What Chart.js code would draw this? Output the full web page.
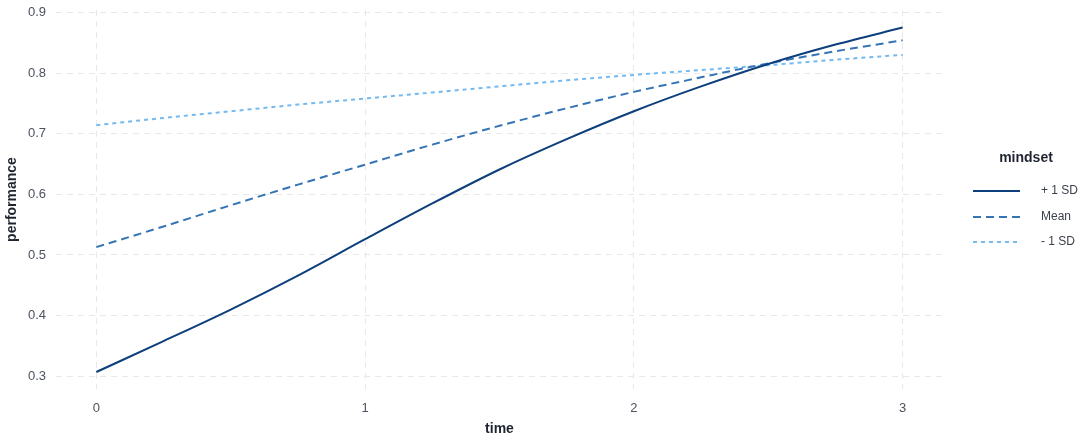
<!DOCTYPE html>
<html>
<head>
<meta charset="utf-8">
<style>
  html, body { margin: 0; padding: 0; background: #fff; }
  #wrap { width: 1084px; height: 444px; }
</style>
<script src="https://cdn.jsdelivr.net/npm/chart.js@4/dist/chart.umd.min.js"></script>
</head>
<body>
<div id="wrap"><canvas id="perfChart"></canvas></div>
<script>
/* ── data ── */
const times = [0, 0.25, 0.5, 0.75, 1, 1.25, 1.5, 1.75, 2, 2.25, 2.5, 2.75, 3];
const plusSD  = [0.307, 0.358, 0.410, 0.466, 0.526, 0.585, 0.641, 0.691, 0.737, 0.778, 0.815, 0.847, 0.875];
const meanSD  = [0.513, 0.547, 0.582, 0.616, 0.649, 0.682, 0.713, 0.742, 0.769, 0.793, 0.816, 0.836, 0.854];
const minusSD = [0.714, 0.726, 0.737, 0.748, 0.758, 0.768, 0.778, 0.788, 0.797, 0.805, 0.813, 0.822, 0.830];
const seriesNames = ['+ 1 SD', 'Mean', '- 1 SD'];
const xTicks = [0, 1, 2, 3];
const yTicks = [0.3, 0.4, 0.5, 0.6, 0.7, 0.8, 0.9];

const FONT = "'Liberation Sans', Arial, sans-serif";
const TICK_COLOR = '#4d5260';
const TITLE_COLOR = '#1f2430';
const GRID = '#e8e8e8';

const toPts = arr => times.map((t, i) => ({ x: t, y: arr[i] }));

/* ── legend drawn on the right, ggplot style ── */
const sideLegend = {
  id: 'sideLegend',
  afterDraw(chart) {
    const { ctx } = chart;
    ctx.save();
    ctx.fillStyle = TITLE_COLOR;
    ctx.font = `bold 14px ${FONT}`;
    ctx.textAlign = 'center';
    ctx.textBaseline = 'middle';
    ctx.fillText('mindset', 1026, 158);

    const rows = [191, 217, 242];
    chart.data.datasets.forEach((ds, i) => {
      ctx.strokeStyle = ds.borderColor;
      ctx.lineWidth = ds.borderWidth;
      ctx.setLineDash(ds.borderDash || []);
      ctx.beginPath();
      ctx.moveTo(973, rows[i]);
      ctx.lineTo(1020, rows[i]);
      ctx.stroke();
      ctx.setLineDash([]);
      ctx.fillStyle = '#3a3f4a';
      ctx.font = `12px ${FONT}`;
      ctx.textAlign = 'left';
      ctx.fillText(ds.label, 1041, rows[i]);
    });
    ctx.restore();
  }
};

new Chart(document.getElementById('perfChart'), {
  type: 'line',
  data: {
    datasets: [
      {
        label: seriesNames[0],
        data: toPts(plusSD),
        borderColor: '#0c3f7c',
        borderWidth: 2,
        borderDash: [],
        pointRadius: 0,
        cubicInterpolationMode: 'monotone'
      },
      {
        label: seriesNames[1],
        data: toPts(meanSD),
        borderColor: '#3574b5',
        borderWidth: 2,
        borderDash: [8, 5],
        pointRadius: 0,
        cubicInterpolationMode: 'monotone'
      },
      {
        label: seriesNames[2],
        data: toPts(minusSD),
        borderColor: '#74b9f0',
        borderWidth: 2,
        borderDash: [4, 4],
        pointRadius: 0,
        cubicInterpolationMode: 'monotone'
      }
    ]
  },
  options: {
    responsive: true,
    maintainAspectRatio: false,
    animation: false,
    layout: { padding: { top: 10, right: 141, left: 0, bottom: 0 } },
    plugins: {
      legend: { display: false },
      tooltip: { enabled: false }
    },
    scales: {
      x: {
        type: 'linear',
        min: -0.15,
        max: 3.15,
        afterBuildTicks: s => { s.ticks = xTicks.map(v => ({ value: v })); },
        afterFit: s => { s.height = 55; s.paddingLeft = 0; s.paddingRight = 0; },
        grid: { color: GRID, lineWidth: 1, drawTicks: false },
        border: { display: false, dash: [6, 5] },
        ticks: {
          padding: 12,
          color: TICK_COLOR,
          font: { family: FONT, size: 13 },
          callback: v => String(v)
        },
        title: {
          display: true,
          text: 'time',
          color: TITLE_COLOR,
          font: { family: FONT, size: 14, weight: 'bold' },
          padding: { top: 0, bottom: 6 }
        }
      },
      y: {
        min: 0.279,
        max: 0.904,
        afterBuildTicks: s => { s.ticks = yTicks.map(v => ({ value: v })); },
        afterFit: s => { s.width = 56; s.paddingTop = 0; s.paddingBottom = 0; },
        grid: { color: GRID, lineWidth: 1, drawTicks: false },
        border: { display: false, dash: [6, 5] },
        ticks: {
          padding: 10,
          color: TICK_COLOR,
          font: { family: FONT, size: 13 },
          callback: v => v.toFixed(1)
        },
        title: {
          display: true,
          text: 'performance',
          color: TITLE_COLOR,
          font: { family: FONT, size: 14, weight: 'bold' },
          padding: { top: 4, bottom: 0 }
        }
      }
    }
  },
  plugins: [sideLegend]
});
</script>
</body>
</html>
